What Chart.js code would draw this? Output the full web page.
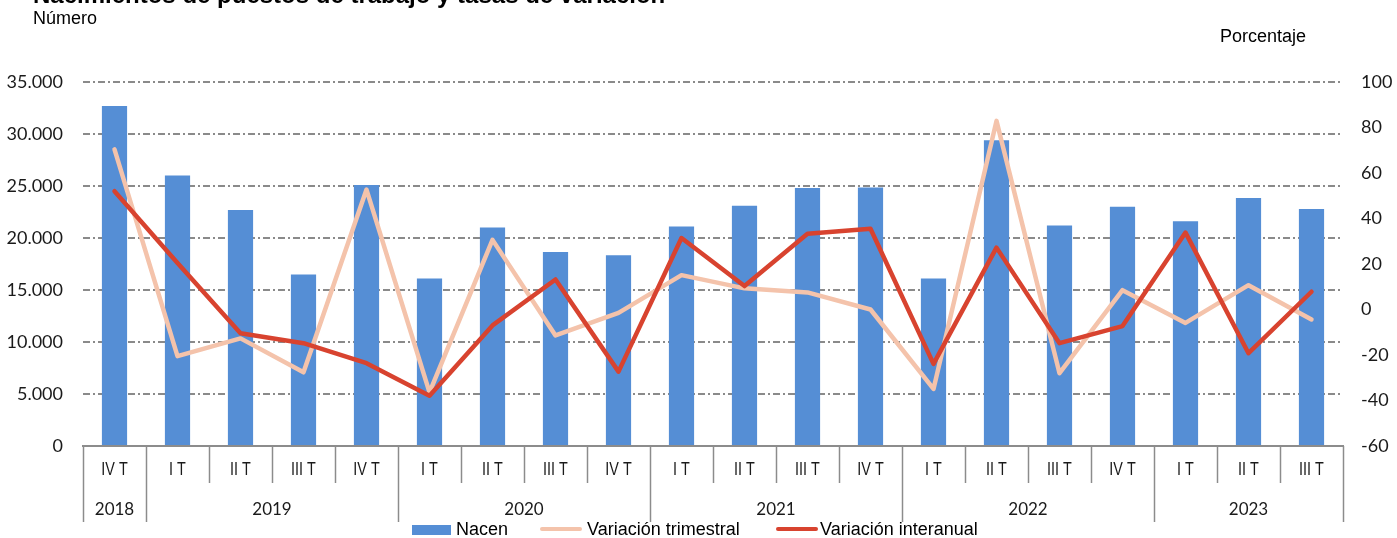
<!DOCTYPE html>
<html>
<head>
<meta charset="utf-8">
<script src="https://cdn.jsdelivr.net/npm/chart.js@4.4.0/dist/chart.umd.min.js"></script>
<style>
  html, body { margin: 0; padding: 0; background: #fff; }
  body {
    width: 1397px; height: 538px; position: relative; overflow: hidden;
    font-family: "Liberation Sans", Arial, sans-serif; color: #000;
  }
  #chart { position: absolute; left: 0; top: 0; }
  .txt { position: absolute; white-space: nowrap; line-height: 20px; }
  #title { left: 33px; top: -15px; font-size: 24px; font-weight: bold; }
  #unitL { left: 33px; top: 8px; font-size: 18px; }
  #unitR { left: 1220px; top: 26px; font-size: 18px; }
  .leg { position: absolute; top: 519px; font-size: 18px; line-height: 20px; white-space: nowrap; }
  .sw { position: absolute; }
</style>
</head>
<body>
<canvas id="chart" width="1397" height="538"></canvas>
<div class="txt" id="title">Nacimientos de puestos de trabajo  y tasas de variación</div>
<div class="txt" id="unitL">Número</div>
<div class="txt" id="unitR">Porcentaje</div>
<div class="sw" style="left:412px; top:525px; width:39px; height:10px; background:#558ED5;"></div>
<div class="leg" style="left:456px;">Nacen</div>
<div class="sw" style="left:540px; top:527px; width:42px; height:4px; border-radius:2px; background:#F4C3AB;"></div>
<div class="leg" style="left:587px;">Variación trimestral</div>
<div class="sw" style="left:776px; top:527px; width:42px; height:4px; border-radius:2px; background:#D8432F;"></div>
<div class="leg" style="left:820px;">Variación interanual</div>

<script>
// Chart data
const quarters = [
  "IV T",
  "I T", "II T", "III T", "IV T",
  "I T", "II T", "III T", "IV T",
  "I T", "II T", "III T", "IV T",
  "I T", "II T", "III T", "IV T",
  "I T", "II T", "III T",
];
const quarterYears = [
  "2018",
  "2019", "2019", "2019", "2019",
  "2020", "2020", "2020", "2020",
  "2021", "2021", "2021", "2021",
  "2022", "2022", "2022", "2022",
  "2023", "2023", "2023",
];
const nacen = [
  32700,
  26000, 22700, 16500, 25100,
  16100, 21000, 18650, 18350,
  21100, 23100, 24800, 24850,
  16100, 29400, 21200, 23000,
  21600, 23850, 22800,
];
const variacionTrimestral = [
  70.4,
  -20.5, -12.7, -27.6, 52.7,
  -36.4, 30.6, -11.4, -1.5,
  15.1, 9.3, 7.5, 0,
  -34.9, 82.9, -28, 8.5,
  -5.9, 10.7, -4.4,
];
const variacionInteranual = [
  52,
  20.4, -10.4, -14.8, -23.6,
  -37.9, -7, 13.2, -27.3,
  31.4, 10.3, 33.3, 35.5,
  -23.9, 27.2, -14.8, -7.3,
  33.8, -19.2, 7.8,
];
const leftTicks = { min: 0, max: 35000, step: 5000 };
const rightTicks = { min: -60, max: 100, step: 20 };

const axisGray = "#8c8c8c";
const labelColor = "#1a1a1a";

function formatThousands(v) {
  return String(v).replace(/\B(?=(\d{3})+(?!\d))/g, ".");
}

// Two-level category axis: quarter row and year row with separators
const categoryAxisPlugin = {
  id: "categoryAxis",
  afterDraw(chart) {
    const ctx = chart.ctx;
    const x = chart.scales.x;
    const bottom = chart.chartArea.bottom;
    const half = (x.getPixelForValue(1) - x.getPixelForValue(0)) / 2;

    ctx.save();
    ctx.strokeStyle = axisGray;
    ctx.lineWidth = 1.5;
    for (let i = 0; i <= quarters.length; i++) {
      const px = i < quarters.length ? x.getPixelForValue(i) - half : x.getPixelForValue(i - 1) + half;
      const isYearEdge = i === 0 || i === quarters.length || quarterYears[i] !== quarterYears[i - 1];
      ctx.beginPath();
      ctx.moveTo(Math.round(px) + 0.5, bottom);
      ctx.lineTo(Math.round(px) + 0.5, bottom + (isYearEdge ? 76 : 37));
      ctx.stroke();
    }

    // quarter labels (condensed look)
    ctx.fillStyle = labelColor;
    ctx.textAlign = "center";
    ctx.textBaseline = "middle";
    ctx.font = '18px "Liberation Sans", Arial, sans-serif';
    quarters.forEach((q, i) => {
      const px = x.getPixelForValue(i);
      ctx.save();
      ctx.translate(px, bottom + 24);
      ctx.scale(0.8, 1);
      ctx.fillText(q, 0, 0);
      ctx.restore();
    });

    // year labels centred under their group
    ctx.font = "17px Lato, sans-serif";
    let start = 0;
    for (let i = 1; i <= quarterYears.length; i++) {
      if (i === quarterYears.length || quarterYears[i] !== quarterYears[start]) {
        const mid = (x.getPixelForValue(start) + x.getPixelForValue(i - 1)) / 2;
        ctx.fillText(quarterYears[start], mid, bottom + 64);
        start = i;
      }
    }
    ctx.restore();
  },
};

function initializeChart() {
  const ctx = document.getElementById("chart").getContext("2d");
  new Chart(ctx, {
    type: "bar",
    data: {
      labels: quarters,
      datasets: [
        {
          type: "line",
          label: "Variación interanual",
          data: variacionInteranual,
          yAxisID: "y1",
          borderColor: "#D8432F",
          borderWidth: 4.5,
          pointRadius: 0,
          tension: 0,
          borderJoinStyle: "round",
          borderCapStyle: "round",
          order: 1,
        },
        {
          type: "line",
          label: "Variación trimestral",
          data: variacionTrimestral,
          yAxisID: "y1",
          borderColor: "#F4C3AB",
          borderWidth: 4.5,
          pointRadius: 0,
          tension: 0,
          borderJoinStyle: "round",
          borderCapStyle: "round",
          order: 2,
        },
        {
          label: "Nacen",
          data: nacen,
          yAxisID: "y",
          backgroundColor: "#558ED5",
          barPercentage: 0.4,
          categoryPercentage: 1,
          order: 3,
        },
      ],
    },
    options: {
      responsive: false,
      animation: false,
      devicePixelRatio: 1,
      layout: { padding: { top: 82, left: 0, right: 0, bottom: 0 } },
      plugins: {
        legend: { display: false },
        tooltip: { enabled: false },
      },
      scales: {
        x: {
          grid: { display: false },
          border: { display: true, color: axisGray, width: 2 },
          ticks: { display: false },
          afterFit(scale) {
            scale.height = 92;
          },
        },
        y: {
          position: "left",
          min: leftTicks.min,
          max: leftTicks.max,
          grid: { color: "#8a8a8a", lineWidth: 2, drawTicks: false },
          border: { display: false, dash: [7, 3, 2, 3] },
          ticks: {
            stepSize: leftTicks.step,
            padding: 20,
            color: labelColor,
            font: { family: "Lato", size: 18 },
            callback: (v) => formatThousands(v),
          },
          afterFit(scale) {
            scale.width = 83;
          },
        },
        y1: {
          position: "right",
          min: rightTicks.min,
          max: rightTicks.max,
          grid: { display: false, drawTicks: false },
          border: { display: false },
          ticks: {
            stepSize: rightTicks.step,
            padding: 18,
            color: labelColor,
            font: { family: "Lato", size: 18 },
          },
          afterFit(scale) {
            scale.width = 54;
          },
        },
      },
    },
    plugins: [categoryAxisPlugin],
  });
}

initializeChart();
</script>
</body>
</html>
